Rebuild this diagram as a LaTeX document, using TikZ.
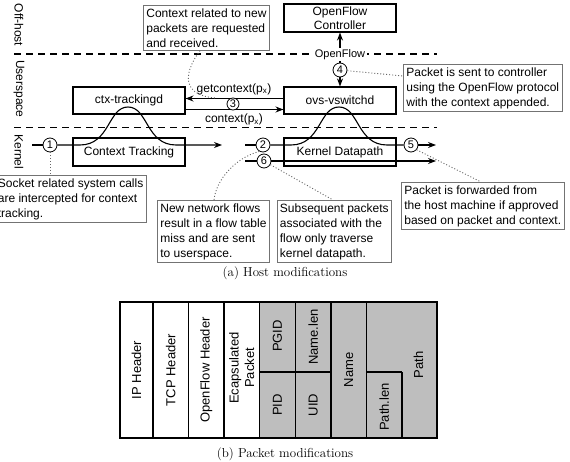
\documentclass[tikz,border=0pt]{standalone}
\usepackage{fontspec}
\newfontfamily\diagfont{Liberation Sans}
\usetikzlibrary{arrows.meta}
\definecolor{pgray}{RGB}{190,190,190}
\begin{document}
\begin{tikzpicture}[x=1pt,y=-1pt,
  every node/.style={font=\fontsize{12}{15}\selectfont\diagfont},
  proc/.style={draw, line width=1.1pt, minimum width=112pt, minimum height=27pt, inner sep=0pt},
  note/.style={draw=black!55, line width=0.8pt, align=left, inner xsep=3pt, inner ysep=3pt, anchor=north west},
  num/.style={circle, draw, fill=white, line width=0.8pt, minimum size=14pt, inner sep=0pt, font=\fontsize{11}{12}\selectfont\diagfont},
  layer/.style={rotate=-90},
  flow/.style={line width=1.1pt},
  tip/.style={-{Stealth[length=8pt,width=6pt]}},
  callout/.style={line width=0.9pt, black!60, dash pattern=on 1pt off 2pt},
  sepline/.style={line width=1.1pt, dash pattern=on 7pt off 5pt},
  cell/.style={draw, line width=1.1pt},
  celltext/.style={rotate=90, font=\fontsize{13}{15.5}\selectfont\diagfont, align=center},
  captext/.style={font=\fontsize{13}{15}\selectfont\rmfamily}
]
\useasboundingbox (0,0) rectangle (570,462);

% layer labels
\node[layer] (loff) at (19,25) {Off-host};
\node[layer] (lusr) at (19,89) {Userspace};
\node[layer] (lker) at (19,152) {Kernel};

% separators
\coordinate (s1a) at (14,54); \coordinate (s1b) at (437,54);
\coordinate (s2a) at (14,127.5); \coordinate (s2b) at (437,127.5);
\draw[sepline] (s1a) -- (s1b);
\draw[sepline] (s2a) -- (s2b);

% process boxes
\node[proc, minimum height=28pt, align=center, font=\fontsize{12}{13.5}\selectfont\diagfont] (ofc) at (340,18) {OpenFlow\\Controller};
\node[proc] (ctx) at (129,100.5) {ctx-trackingd};
\node[proc] (ovs) at (340,100.5) {ovs-vswitchd};
\node[proc, minimum height=28pt] (ctk) at (129,152) {Context Tracking};
\node[proc, minimum height=28pt] (kdp) at (340,152) {Kernel Datapath};

% notes
\node[note] (ctxnote) at (143,5) {Context related to new\\packets are requested\\and received.};
\node[note] (sentnote) at (403,64) {Packet is sent to controller\\using the OpenFlow protocol\\with the context appended.};
\node[note] (socknote) at (-5.5,175) {Socket related system calls\\are intercepted for context\\tracking.};
\node[note] (newnote) at (157,200) {New network flows\\result in a flow table\\miss and are sent\\to userspace.};
\node[note] (subnote) at (276.5,200) {Subsequent packets\\associated with the\\flow only traverse\\kernel datapath.};
\node[note] (fwdnote) at (401,182) {Packet is forwarded from\\the host machine if approved\\based on packet and context.};

% kernel flows
\coordinate (k1s) at (32,145); \coordinate (k1e) at (222,145);
\coordinate (k2s) at (245,145); \coordinate (k2e) at (436,145);
\coordinate (k6s) at (245,161); \coordinate (k6e) at (436,161);
\node[num] (n1) at (50,145) {1};
\node[num] (n2) at (263,145) {2};
\node[num] (n5) at (411,145) {5};
\node[num] (n6) at (264,161) {6};

\draw[flow] (k1s) -- (n1);
\draw[flow,tip] (n1) -- (80,145) .. controls (110,145) and (108,107) .. (128,107) .. controls (148,107) and (146,145) .. (176,145) -- (k1e);
\draw[flow] (k2s) -- (n2);
\draw[flow] (n2) -- (291,145) .. controls (321,145) and (319,107) .. (339,107) .. controls (359,107) and (357,145) .. (387,145) -- (n5);
\draw[flow,tip] (n5) -- (k2e);
\draw[flow] (k6s) -- (n6);
\draw[flow,tip] (n6) -- (k6e);

% userspace exchange
\draw[flow,tip] (ovs.west |- 0,98.5) -- (ctx.east |- 0,98.5);
\draw[flow,tip] (ctx.east |- 0,109.5) -- (ovs.west |- 0,109.5);
\node[num, minimum size=12pt] (n3) at (233,104) {3};
\node (gl) at (234,89) {getcontext(p\textsubscript{x})};
\node (cl) at (234,119.5) {context(p\textsubscript{x})};

% openflow channel
\draw[flow,{Stealth[length=8pt,width=6pt]}-{Stealth[length=8pt,width=6pt]}] (ovs.north) -- (ofc.south);
\node[fill=white, inner sep=1.5pt, font=\fontsize{11}{12}\selectfont\diagfont] (ofl) at (340,54.5) {OpenFlow};
\node[num] (n4) at (340,70) {4};

% callouts
\coordinate (gq) at (216,98);
\draw[callout] (ctxnote.south -| 200,0) .. controls (180,78) and (186,96) .. (gq);
\draw[callout] (n4) -- (sentnote.west |- 0,76);
\draw[callout] (n1) -- (socknote.north -| n1);
\draw[callout] (n2.240) .. controls (235,158) and (216,180) .. (newnote.north -| 214,0);
\draw[callout] (n6.-30) -- (subnote.north -| 333,0);
\draw[callout] (n5.-40) -- (fwdnote.north -| 481,0);

\node[captext] (capa) at (285,273) {(a) Host modifications};

% packet layout
\fill[pgray] (259.5,302) rectangle (437,438);
\draw[cell] (120,302) rectangle (437,438);
\foreach \xx in {153,188.5,224,259.5,295.5,331,366.5}{\draw[cell] (\xx,302) -- (\xx,438);}
\draw[cell] (402,372) -- (402,438);
\draw[cell] (259.5,372) -- (331,372);
\draw[cell] (366.5,372) -- (402,372);

\node[celltext] (tip) at (136.5,370) {IP Header};
\node[celltext] (ttcp) at (170.7,370) {TCP Header};
\node[celltext] (tof) at (206.2,370) {OpenFlow Header};
\node[celltext] (tenc) at (241.7,368) {Ecapsulated\\Packet};
\node[celltext] (tpgid) at (277.5,336) {PGID};
\node[celltext] (tpid) at (277.5,405) {PID};
\node[celltext] (tnl) at (313.2,337) {Name.len};
\node[celltext] (tuid) at (313.2,405) {UID};
\node[celltext] (tname) at (348.7,370) {Name};
\node[celltext] (tpl) at (384.2,407) {Path.len};
\node[celltext] (tpath) at (418.5,365) {Path};

\node[captext] (capb) at (285,454) {(b) Packet modifications};
\end{tikzpicture}
\end{document}
